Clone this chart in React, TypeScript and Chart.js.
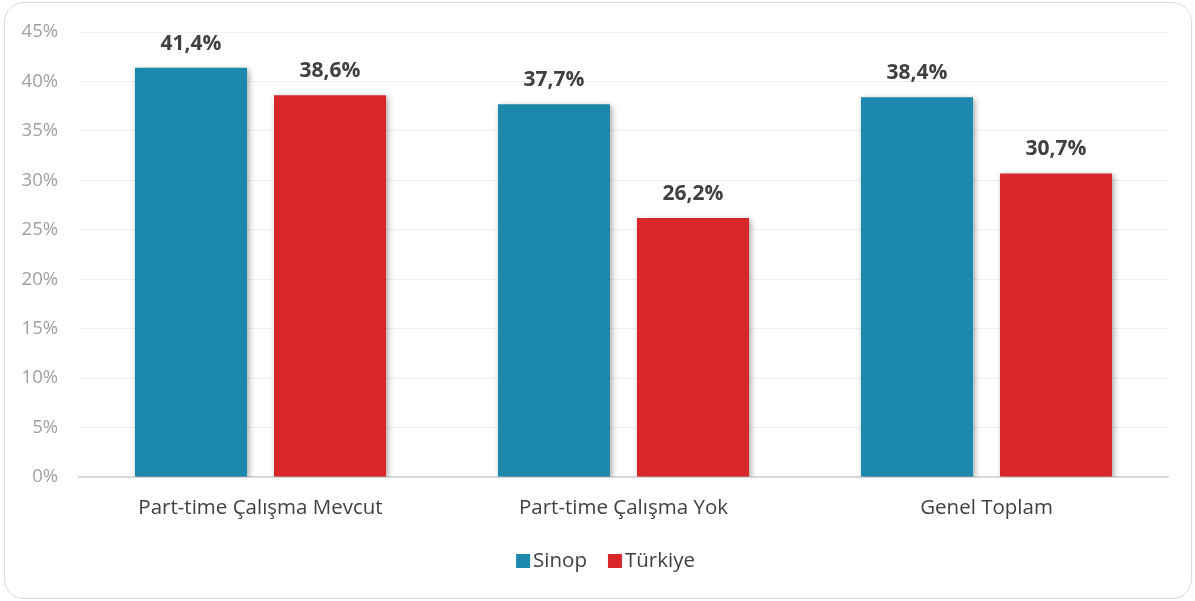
import React, { useEffect, useRef } from "react";
import { Chart, registerables } from "chart.js";

Chart.register(...registerables);

const categories = ["Part-time Çalışma Mevcut", "Part-time Çalışma Yok", "Genel Toplam"];
const seriesNames = ["Sinop", "Türkiye"];
const sinopValues = [41.4, 37.7, 38.4];
const turkiyeValues = [38.6, 26.2, 30.7];
const seriesColors = ["#1b88ac", "#d7272a"];
const yTicks = [0, 5, 10, 15, 20, 25, 30, 35, 40, 45];

const FONT = "'Open Sans', 'Noto Sans', sans-serif";

const shadowPlugin = {
  id: "barShadow",
  beforeDatasetsDraw(chart: any) {
    const ctx = chart.ctx;
    ctx.save();
    ctx.shadowColor = "rgba(0,0,0,0.35)";
    ctx.shadowBlur = 6;
    ctx.shadowOffsetX = 2;
    ctx.shadowOffsetY = 2;
  },
  afterDatasetsDraw(chart: any) {
    chart.ctx.restore();
  },
};

const labelPlugin = {
  id: "valueLabels",
  afterDraw(chart: any) {
    const ctx = chart.ctx;
    ctx.save();
    ctx.font = `bold 21px ${FONT}`;
    ctx.fillStyle = "#404040";
    ctx.textAlign = "center";
    ctx.textBaseline = "alphabetic";
    chart.data.datasets.forEach((ds: any, i: number) => {
      const meta = chart.getDatasetMeta(i);
      meta.data.forEach((bar: any, j: number) => {
        const v = ds.data[j];
        ctx.fillText(v.toFixed(1).replace(".", ",") + "%", bar.x, bar.y - 18);
      });
    });
    ctx.restore();
  },
};

const legendPlugin = {
  id: "customLegend",
  afterDraw(chart: any) {
    const ctx = chart.ctx;
    ctx.save();
    ctx.font = `20.5px ${FONT}`;
    ctx.textBaseline = "middle";
    ctx.textAlign = "left";
    const box = 14;
    const gap = 3;
    const spacing = 21;
    const items = chart.data.datasets.map((ds: any) => ({
      text: ds.label,
      color: ds.backgroundColor,
      w: ctx.measureText(ds.label).width,
    }));
    const total = items.reduce((a: number, it: any) => a + box + gap + it.w, 0) + spacing * (items.length - 1);
    let x = chart.width / 2 + 8 - total / 2;
    const cy = 561;
    items.forEach((it: any) => {
      ctx.fillStyle = it.color;
      ctx.fillRect(x, cy - box / 2, box, box);
      x += box + gap;
      ctx.fillStyle = "#404040";
      ctx.fillText(it.text, x, cy);
      x += it.w + spacing;
    });
    ctx.restore();
  },
};

export default function App() {
  const ref = useRef<HTMLCanvasElement | null>(null);
  useEffect(() => {
    document.body.style.margin = "0";
    const chart = new Chart(ref.current as HTMLCanvasElement, {
      type: "bar",
      data: {
        labels: categories,
        datasets: [
          { label: seriesNames[0], data: sinopValues, backgroundColor: seriesColors[0] },
          { label: seriesNames[1], data: turkiyeValues, backgroundColor: seriesColors[1] },
        ],
      },
      options: {
        animation: false,
        responsive: false,
        maintainAspectRatio: false,
        devicePixelRatio: 1,
        categoryPercentage: 0.766,
        barPercentage: 0.806,
        layout: { padding: { top: 28, right: 27, bottom: 62, left: 0 } },
        scales: {
          x: {
            grid: { display: false, drawTicks: false },
            border: { color: "#d9d9d9", width: 2 },
            afterFit: (s: any) => { s.height = 62; },
            ticks: { color: "#404040", font: { size: 20.5, family: FONT }, padding: 19 },
          },
          y: {
            min: 0,
            max: 45,
            afterFit: (s: any) => { s.width = 79; },
            afterBuildTicks: (s: any) => { s.ticks = yTicks.map((v) => ({ value: v })); },
            grid: { color: "#efefef", drawTicks: false },
            border: { display: false },
            ticks: {
              color: "#a0a0a0",
              font: { size: 18.5, family: FONT },
              padding: 21,
              callback: (v: any) => v + "%",
            },
          },
        },
        plugins: {
          tooltip: { enabled: false },
          legend: { display: false },
        },
      },
      plugins: [shadowPlugin, labelPlugin, legendPlugin],
    });
    return () => chart.destroy();
  }, []);
  return (
    <div style={{ position: "relative", width: 1195, height: 601, background: "#fff" }}>
      <canvas ref={ref} width={1195} height={601} style={{ display: "block" }} />
      <div
        style={{
          position: "absolute",
          left: 4,
          top: 2,
          width: 1188,
          height: 597,
          boxSizing: "border-box",
          border: "1px solid #d9d9d9",
          borderRadius: 20,
          pointerEvents: "none",
        }}
      />
    </div>
  );
}
